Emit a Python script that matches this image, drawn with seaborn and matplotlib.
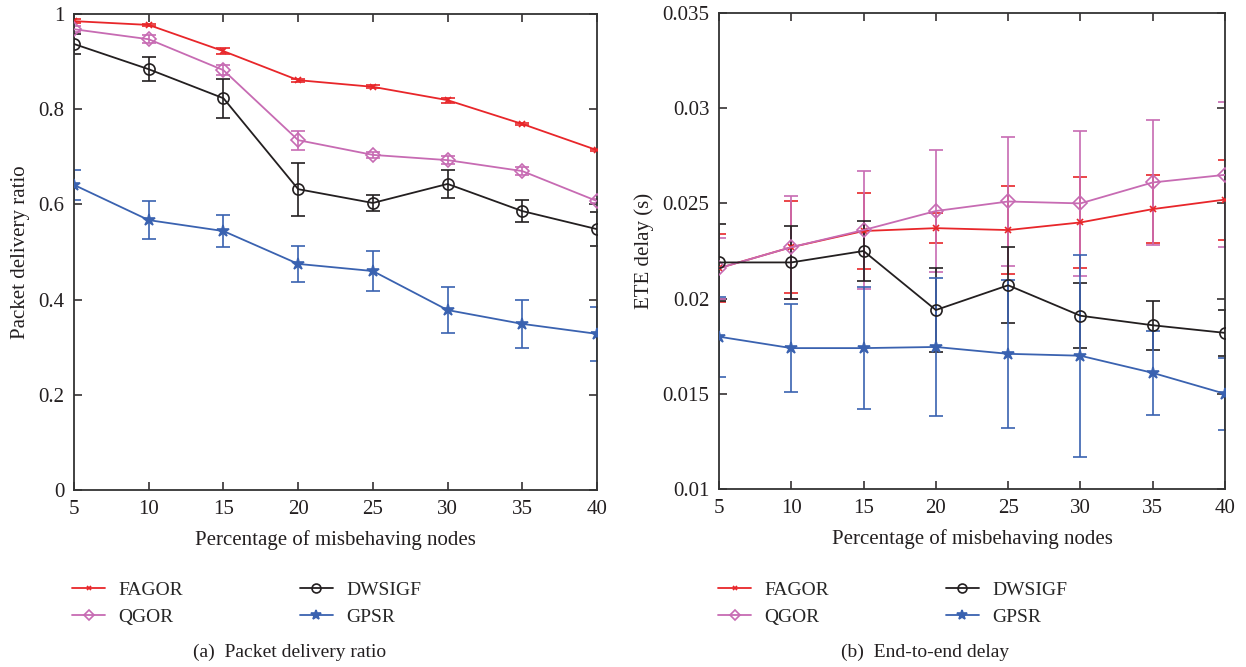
import matplotlib
matplotlib.use("Agg")
import matplotlib.pyplot as plt
import seaborn as sns
import numpy as np

# ---------------- data ----------------
x_vals = [5, 10, 15, 20, 25, 30, 35, 40]
series_names = ["FAGOR", "QGOR", "DWSIGF", "GPSR"]

# (a) Packet delivery ratio
pdr_fagor = [0.985, 0.977, 0.922, 0.861, 0.847, 0.819, 0.769, 0.714]
pdr_fagor_err = [0.004, 0.003, 0.007, 0.003, 0.003, 0.005, 0.003, 0.002]
pdr_qgor = [0.968, 0.947, 0.882, 0.735, 0.704, 0.693, 0.670, 0.607]
pdr_qgor_err = [0.006, 0.008, 0.010, 0.020, 0.006, 0.008, 0.008, 0.005]
pdr_dwsigf = [0.937, 0.884, 0.823, 0.632, 0.603, 0.643, 0.586, 0.548]
pdr_dwsigf_err = [0.020, 0.025, 0.041, 0.056, 0.016, 0.030, 0.024, 0.035]
pdr_gpsr = [0.641, 0.567, 0.544, 0.475, 0.460, 0.378, 0.349, 0.328]
pdr_gpsr_err = [0.032, 0.040, 0.033, 0.037, 0.042, 0.048, 0.051, 0.056]

# (b) End-to-end delay
ete_fagor = [0.0216, 0.0227, 0.02355, 0.0237, 0.0236, 0.0240, 0.0247, 0.0252]
ete_fagor_err = [0.0018, 0.0024, 0.0020, 0.0008, 0.0023, 0.0024, 0.0018, 0.0021]
ete_qgor = [0.0216, 0.0227, 0.0236, 0.0246, 0.0251, 0.0250, 0.0261, 0.0265]
ete_qgor_err = [0.0016, 0.0027, 0.0031, 0.0032, 0.0034, 0.0038, 0.0033, 0.0038]
ete_dwsigf = [0.0219, 0.0219, 0.0225, 0.0194, 0.0207, 0.0191, 0.0186, 0.0182]
ete_dwsigf_err = [0.0020, 0.0019, 0.0016, 0.0022, 0.0020, 0.0017, 0.0013, 0.0012]
ete_gpsr = [0.0180, 0.0174, 0.0174, 0.01746, 0.0171, 0.0170, 0.0161, 0.0150]
ete_gpsr_err = [0.0021, 0.0023, 0.0032, 0.0036, 0.0039, 0.0053, 0.0022, 0.0019]

pdr_yticks = [0, 0.2, 0.4, 0.6, 0.8, 1.0]
pdr_yticklabels = ["0", "0.2", "0.4", "0.6", "0.8", "1"]
ete_yticks = [0.01, 0.015, 0.02, 0.025, 0.03, 0.035]
ete_yticklabels = ["0.01", "0.015", "0.02", "0.025", "0.03", "0.035"]
x_ticks = [5, 10, 15, 20, 25, 30, 35, 40]

xlabel_text = "Percentage of misbehaving nodes"
ylabel_a = "Packet delivery ratio"
ylabel_b = "ETE delay (s)"
caption_a = "(a)  Packet delivery ratio"
caption_b = "(b)  End-to-end delay"

# ---------------- style ----------------
sns.set_theme(style="white")
plt.rcParams["font.family"] = ["Liberation Serif", "DejaVu Serif"]

colors = {"FAGOR": "#e8262a", "QGOR": "#c76bb3", "DWSIGF": "#231f20", "GPSR": "#3a62b0"}
markers = {"FAGOR": "x", "QGOR": "D", "DWSIGF": "o", "GPSR": "*"}
msizes = {"FAGOR": 4, "QGOR": 7, "DWSIGF": 8, "GPSR": 9}
mfill = {"FAGOR": True, "QGOR": False, "DWSIGF": False, "GPSR": True}

FS = 15
FS_LEG = 14
fig = plt.figure(figsize=(12.46, 6.67), dpi=100)
W, H = 1246, 667

def px_axes(l, t, r, b):
    return [l / W, 1 - b / H, (r - l) / W, (b - t) / H]

ax1 = fig.add_axes(px_axes(74, 14, 597, 490))
ax2 = fig.add_axes(px_axes(719, 13, 1225, 489))

panel_a = {"FAGOR": (pdr_fagor, pdr_fagor_err), "QGOR": (pdr_qgor, pdr_qgor_err),
           "DWSIGF": (pdr_dwsigf, pdr_dwsigf_err), "GPSR": (pdr_gpsr, pdr_gpsr_err)}
panel_b = {"FAGOR": (ete_fagor, ete_fagor_err), "QGOR": (ete_qgor, ete_qgor_err),
           "DWSIGF": (ete_dwsigf, ete_dwsigf_err), "GPSR": (ete_gpsr, ete_gpsr_err)}

def draw(ax, panel, yticks, yticklabels, ylim, ylabel):
    for name in series_names:
        vals, errs = panel[name]
        c = colors[name]
        ax.errorbar(x_vals, vals, yerr=errs, fmt="none", ecolor=c, elinewidth=1.2,
                    capsize=5, capthick=1.2, zorder=2)
        sns.lineplot(x=x_vals, y=vals, ax=ax, color=c, marker=markers[name],
                     markersize=msizes[name], markeredgecolor=c,
                     markerfacecolor=(c if mfill[name] else "none"),
                     markeredgewidth=1.2, linewidth=1.3, label=name,
                     errorbar=None, zorder=3)
    leg = ax.get_legend()
    if leg is not None:
        leg.remove()
    ax.set_xlim(5, 40)
    ax.set_ylim(*ylim)
    ax.set_xticks(x_ticks)
    ax.set_xticklabels([str(v) for v in x_ticks], fontsize=FS)
    ax.set_yticks(yticks)
    ax.set_yticklabels(yticklabels, fontsize=FS)
    ax.tick_params(direction="in", length=6, width=1.1, top=True, right=True,
                   bottom=True, left=True, colors="#231f20", pad=7)
    for s in ax.spines.values():
        s.set_color("#333333")
        s.set_linewidth(1.3)
    ax.set_xlabel(xlabel_text, fontsize=FS, color="#231f20", labelpad=8)
    ax.set_ylabel(ylabel, fontsize=FS, color="#231f20", labelpad=6)
    for lab in ax.get_xticklabels() + ax.get_yticklabels():
        lab.set_color("#231f20")

draw(ax1, panel_a, pdr_yticks, pdr_yticklabels, (0, 1), ylabel_a)
draw(ax2, panel_b, ete_yticks, ete_yticklabels, (0.01, 0.035), ylabel_b)

for ax, lx in ((ax1, 72), (ax2, 718)):
    h, l = ax.get_legend_handles_labels()
    fig.legend(h, l, loc="upper left", bbox_to_anchor=(lx / W, 1 - 581 / H), ncol=2,
               frameon=False, fontsize=FS_LEG, handlelength=1.7, handletextpad=0.7,
               columnspacing=6.0, labelspacing=0.5, numpoints=1, borderaxespad=0,
               borderpad=0, markerscale=0.8)

fig.text(290 / W, 1 - 652 / H, caption_a, ha="center", va="center", fontsize=FS_LEG, color="#231f20")
fig.text(925 / W, 1 - 652 / H, caption_b, ha="center", va="center", fontsize=FS_LEG, color="#231f20")

fig.savefig("out.png", dpi=100)
